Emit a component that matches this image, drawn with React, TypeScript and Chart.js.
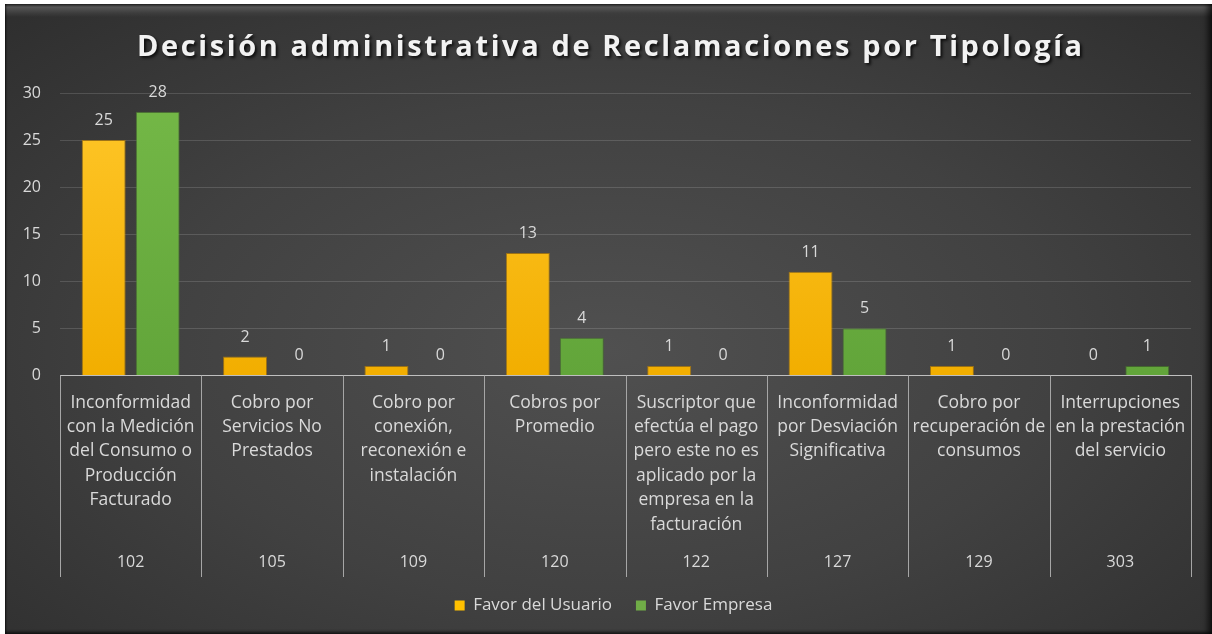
import React, { useEffect, useRef } from "react";
import { Chart, registerables } from "chart.js";

Chart.register(...registerables);

const TITLE = "Decisión administrativa de Reclamaciones por Tipología";

const categories: string[][] = [
  ["Inconformidad", "con la Medición", "del Consumo o", "Producción", "Facturado"],
  ["Cobro por", "Servicios No", "Prestados"],
  ["Cobro por", "conexión,", "reconexión e", "instalación"],
  ["Cobros por", "Promedio"],
  ["Suscriptor que", "efectúa el pago", "pero este no es", "aplicado por la", "empresa en la", "facturación"],
  ["Inconformidad", "por Desviación", "Significativa"],
  ["Cobro por", "recuperación de", "consumos"],
  ["Interrupciones", "en la prestación", "del servicio"],
];

const codes = ["102", "105", "109", "120", "122", "127", "129", "303"];

const favorUsuario = [25, 2, 1, 13, 1, 11, 1, 0];
const favorEmpresa = [28, 0, 0, 4, 0, 5, 0, 1];

const seriesNames = ["Favor del Usuario", "Favor Empresa"];

const yMin = 0;
const yMax = 30;
const yStep = 5;

const FONT = "'Open Sans'";
const TEXT = "#d9d9d9";

function barGradient(top: string, bottom: string, fallback: string) {
  return (ctx: any) => {
    const chart = ctx.chart;
    const area = chart.chartArea;
    if (!area) return fallback;
    const g = chart.ctx.createLinearGradient(0, area.top, 0, area.bottom);
    g.addColorStop(0, top);
    g.addColorStop(1, bottom);
    return g;
  };
}

const titlePlugin = {
  id: "customTitle",
  afterDraw(chart: any) {
    const ctx = chart.ctx as CanvasRenderingContext2D;
    ctx.save();
    ctx.font = `bold 29px ${FONT}`;
    (ctx as any).letterSpacing = "0px";
    const w = ctx.measureText(TITLE).width;
    const target = 945;
    const sp = Math.max(0, (target - w) / (TITLE.length - 1));
    (ctx as any).letterSpacing = `${sp.toFixed(2)}px`;
    ctx.textAlign = "center";
    ctx.textBaseline = "middle";
    ctx.shadowColor = "rgba(0,0,0,0.75)";
    ctx.shadowOffsetX = 2;
    ctx.shadowOffsetY = 2;
    ctx.shadowBlur = 3;
    ctx.fillStyle = "#f2f2f2";
    ctx.fillText(TITLE, 604.5 + sp / 2, 44);
    ctx.restore();
  },
};

const separatorsPlugin = {
  id: "separators",
  afterDraw(chart: any) {
    const x = chart.scales.x;
    const x2 = chart.scales.x2;
    const ctx = chart.ctx as CanvasRenderingContext2D;
    const n = categories.length;
    const step = (x.right - x.left) / n;
    ctx.save();
    ctx.strokeStyle = "#a6a6a6";
    ctx.lineWidth = 1;
    for (let i = 0; i <= n; i++) {
      const px = Math.round(x.left + i * step) + 0.5;
      ctx.beginPath();
      ctx.moveTo(px, x.top);
      ctx.lineTo(px, x2.bottom + 4);
      ctx.stroke();
    }
    ctx.restore();
  },
};

const valueLabelsPlugin = {
  id: "valueLabels",
  afterDatasetsDraw(chart: any) {
    const ctx = chart.ctx as CanvasRenderingContext2D;
    ctx.save();
    ctx.font = `16px ${FONT}`;
    ctx.fillStyle = TEXT;
    ctx.textAlign = "center";
    ctx.textBaseline = "alphabetic";
    chart.data.datasets.forEach((ds: any, di: number) => {
      const meta = chart.getDatasetMeta(di);
      meta.data.forEach((el: any, i: number) => {
        ctx.fillText(String(ds.data[i]), el.x, el.y - 15);
      });
    });
    ctx.restore();
  },
};

export default function App() {
  const canvasRef = useRef<HTMLCanvasElement | null>(null);

  useEffect(() => {
    if (!canvasRef.current) return;
    const chart = new Chart(canvasRef.current, {
      type: "bar",
      data: {
        labels: categories,
        datasets: [
          {
            label: seriesNames[0],
            data: favorUsuario,
            backgroundColor: barGradient("#ffc72a", "#f2ae00", "#ffc000"),
            borderColor: "rgba(190,130,0,0.7)",
            borderWidth: 1,
            categoryPercentage: 0.764,
            barPercentage: 0.815,
          },
          {
            label: seriesNames[1],
            data: favorEmpresa,
            backgroundColor: barGradient("#74b847", "#62a53a", "#70ad47"),
            borderColor: "rgba(70,120,40,0.7)",
            borderWidth: 1,
            categoryPercentage: 0.764,
            barPercentage: 0.815,
          },
        ],
      },
      options: {
        animation: false,
        responsive: true,
        maintainAspectRatio: false,
        layout: { padding: { left: 10, right: 0, top: 89, bottom: 10 } },
        plugins: {
          title: { display: false },
          tooltip: { enabled: false },
          legend: {
            position: "bottom",
            labels: {
              color: TEXT,
              font: { family: FONT, size: 17 },
              boxWidth: 10,
              boxHeight: 10,
              padding: 24,
              generateLabels: (chart: any) =>
                chart.data.datasets.map((ds: any, i: number) => ({
                  text: ds.label,
                  fillStyle: i === 0 ? "#ffc000" : "#70ad47",
                  strokeStyle: i === 0 ? "#ffc000" : "#70ad47",
                  lineWidth: 0,
                  fontColor: TEXT,
                  hidden: false,
                  datasetIndex: i,
                })),
            },
          },
        },
        scales: {
          x: {
            type: "category",
            position: "bottom",
            offset: true,
            grid: { display: false, drawTicks: false },
            border: { display: true, color: "#bfbfbf", width: 1 },
            ticks: {
              color: TEXT,
              font: { family: FONT, size: 17.5, lineHeight: 1.394 },
              padding: 15,
              maxRotation: 0,
              minRotation: 0,
              autoSkip: false,
            },
          },
          x2: {
            type: "category",
            position: "bottom",
            labels: codes,
            offset: true,
            grid: { display: false, drawTicks: false },
            border: { display: false },
            ticks: {
              color: TEXT,
              font: { family: FONT, size: 16, lineHeight: 1.2 },
              padding: 1,
              maxRotation: 0,
              autoSkip: false,
            },
          },
          y: {
            min: yMin,
            max: yMax,
            ticks: {
              stepSize: yStep,
              color: TEXT,
              font: { family: FONT, size: 16 },
              padding: 19,
            },
            grid: { color: "rgba(255,255,255,0.14)", drawTicks: false },
            border: { display: false },
            afterFit: (scale: any) => {
              scale.width = 45;
            },
          },
          yRight: {
            type: "linear",
            position: "right",
            min: yMin,
            max: yMax,
            grid: { display: false, drawTicks: false },
            border: { display: false },
            ticks: { display: false },
            afterFit: (scale: any) => {
              scale.width = 21;
            },
          },
        },
      },
      plugins: [titlePlugin, separatorsPlugin, valueLabelsPlugin],
    } as any);
    return () => chart.destroy();
  }, []);

  return (
    <div
      style={{
        position: "fixed",
        left: 0,
        top: 0,
        width: 1212,
        height: 634,
        background: "#ffffff",
        overflow: "hidden",
      }}
    >
      <div
        style={{
          position: "absolute",
          left: 5,
          top: 4,
          width: 1207,
          height: 630,
          background:
            "linear-gradient(to bottom, #262626 0px, #575757 3px, #3d3d3d 9px, rgba(0,0,0,0) 13px), radial-gradient(ellipse 75% 80% at 50% 55%, #505050 0%, #414141 50%, #2c2c2c 100%)",
          boxShadow:
            "inset -7px 0 6px -3px rgba(0,0,0,0.7), inset 0 -3px 3px -1px rgba(0,0,0,0.6), inset 2px 0 2px -1px rgba(0,0,0,0.6)",
        }}
      >
        <canvas ref={canvasRef} />
      </div>
    </div>
  );
}
